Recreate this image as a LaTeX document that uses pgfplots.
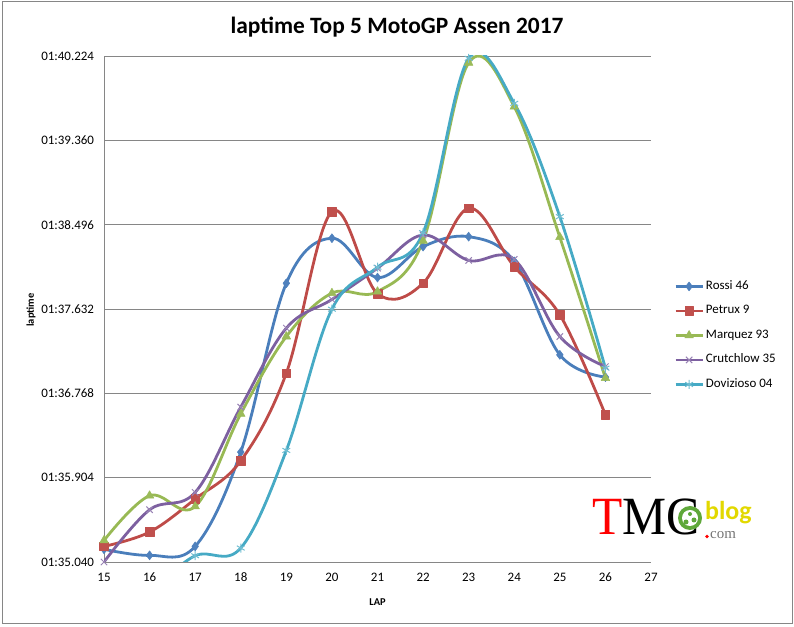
\documentclass[border=0pt]{standalone}
\usepackage{fontspec}
\setmainfont{Carlito}
\newfontfamily\lserif{Liberation Serif}
\usepackage{pgfplots}
\pgfplotsset{compat=1.18}
\definecolor{gridgray}{HTML}{868686}
\definecolor{cRossi}{HTML}{4A7EBB}
\definecolor{mRossi}{HTML}{4F81BD}
\definecolor{cPetrux}{HTML}{BE4B48}
\definecolor{mPetrux}{HTML}{C0504D}
\definecolor{cMarquez}{HTML}{98B954}
\definecolor{mMarquez}{HTML}{9BBB59}
\definecolor{cCrutch}{HTML}{7D60A0}
\definecolor{mCrutch}{HTML}{8064A2}
\definecolor{cDovi}{HTML}{46AAC5}
\definecolor{mDovi}{HTML}{4BACC6}
\definecolor{logoyellow}{HTML}{E2D800}
\definecolor{logogreen}{HTML}{5FA83A}
\begin{document}
\begin{tikzpicture}[x=1bp,y=1bp]
\useasboundingbox (0,0) rectangle (794,627);
\draw[color=gridgray, line width=1bp] (2.5,3) rectangle (792,625);
\begin{axis}[
  at={(104bp,65bp)}, anchor=south west,
  scale only axis, width=547bp, height=506bp,
  xmin=15, xmax=27, ymin=95.04, ymax=100.224,
  xtick={15,16,17,18,19,20,21,22,23,24,25,26,27},
  ytick={95.04,95.904,96.768,97.632,98.496,99.36,100.224},
  yticklabels={01:35.040,01:35.904,01:36.768,01:37.632,01:38.496,01:39.360,01:40.224},
  ymajorgrids, grid style={color=gridgray, line width=0.8bp},
  axis x line*=bottom, axis y line*=left,
  axis line style={color=gridgray, line width=0.8bp},
  major tick length=0pt,
  tick label style={font=\fontsize{13}{15}\selectfont},
  yticklabel style={xshift=-6.5bp},
  xticklabel style={yshift=-7.5bp},
  /pgf/number format/assume math mode=true,
  every axis plot/.append style={smooth, tension=0.6, line width=2.8bp, line join=round},
  legend style={draw=none, fill=none, at={(1.042,0.4477)}, anchor=west,
    inner sep=0pt, row sep=8.5bp, font=\fontsize{13}{15}\selectfont,
    nodes={text height=9bp, text depth=3bp, inner sep=2bp}},
  legend cell align=left,
  legend image code/.code={\draw[mark repeat=2, mark phase=2] plot coordinates {(0bp,0bp)(13.5bp,0bp)(27bp,0bp)};},
]
\addplot[color=cRossi, mark=diamond*, mark size=4.5bp, mark options={solid, fill=mRossi, draw=mRossi, line width=0.5bp}] coordinates {
(15,95.17)(16,95.108)(17,95.20)(18,96.166)(19,97.896)(20,98.357)(21,97.954)(22,98.271)(23,98.373)(24,98.12)(25,97.162)(26,96.934)};
\addlegendentry{Rossi 46}
\addplot[color=cPetrux, mark=square*, mark size=4.3bp, mark options={solid, fill=mPetrux, draw=mPetrux, line width=0.5bp}] coordinates {
(15,95.20)(16,95.347)(17,95.685)(18,96.077)(19,96.975)(20,98.629)(21,97.79)(22,97.896)(23,98.664)(24,98.066)(25,97.572)(26,96.548)};
\addlegendentry{Petrux 9}
\addplot[color=cMarquez, mark=triangle*, mark size=5bp, mark options={solid, fill=mMarquez, draw=mMarquez, line width=0.5bp}] coordinates {
(15,95.261)(16,95.719)(17,95.609)(18,96.558)(19,97.35)(20,97.794)(21,97.81)(22,98.33)(23,100.154)(24,99.704)(25,98.367)(26,96.924)};
\addlegendentry{Marquez 93}
\addplot[color=cCrutch, mark=x, mark size=4.5bp, mark options={solid, draw=mCrutch!80!white, line width=1bp}] coordinates {
(15,95.04)(16,95.575)(17,95.753)(18,96.627)(19,97.436)(20,97.73)(21,98.05)(22,98.39)(23,98.13)(24,98.14)(25,97.35)(26,97.042)};
\addlegendentry{Crutchlow 35}
\addplot[color=cDovi, mark=asterisk, mark size=4.5bp, mark options={solid, draw=mDovi!80!white, line width=1bp}] coordinates {
(15,94.60)(16,94.75)(17,95.104)(18,95.183)(19,96.183)(20,97.63)(21,98.06)(22,98.414)(23,100.20)(24,99.739)(25,98.578)(26,97.026)};
\addlegendentry{Dovizioso 04}
\end{axis}
% titles
\node[anchor=base, font=\fontsize{23.5}{26}\selectfont\bfseries, inner sep=0pt] at (397,593) {laptime Top 5 MotoGP Assen 2017};
\node[anchor=center, font=\fontsize{10.5}{12}\selectfont\bfseries, inner sep=0pt] at (377.5,25) {LAP};
\node[anchor=center, rotate=90, font=\fontsize{10.5}{12}\selectfont\bfseries, inner sep=0pt] at (31,317) {laptime};
% logo
\node[anchor=base west, font=\fontsize{54}{54}\selectfont\lserif, inner sep=0pt, xscale=0.92] at (592,92) {\textcolor{red}{T}MC};
\fill[logogreen] (690,109) circle (12);
\fill[white] (690,109) circle (8);
\fill[logogreen] (686,105) circle (2.5);
\fill[logogreen] (694,107) circle (2.5);
\fill[logogreen] (690,113) circle (2);
\node[anchor=base west, font=\fontsize{26}{26}\selectfont\bfseries, inner sep=0pt, text=logoyellow] at (705,107) {blog};
\fill[red] (707,90.5) circle (1.8);
\node[anchor=base west, font=\fontsize{15}{15}\selectfont\lserif, inner sep=0pt, text=black!55] at (710,88) {com};
\end{tikzpicture}
\end{document}
